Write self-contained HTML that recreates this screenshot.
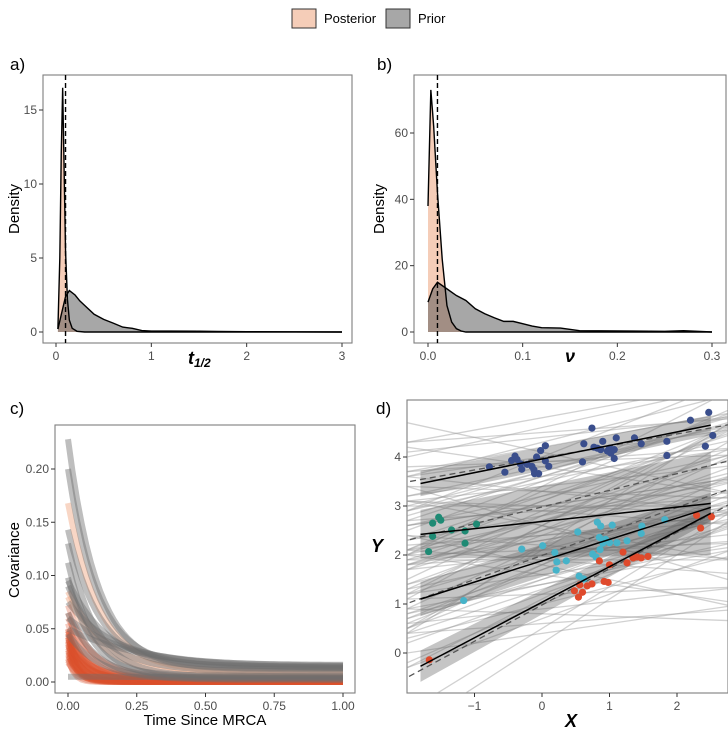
<!DOCTYPE html>
<html><head><meta charset="utf-8">
<style>
body{margin:0;background:#fff;font-family:"Liberation Sans",sans-serif;}
svg{display:block}
text{font-family:"Liberation Sans",sans-serif}
.tick{font-size:12px;fill:#4d4d4d}
.ttl{font-size:15px;fill:#000}
</style></head>
<body>
<svg id="fig" width="728" height="735" viewBox="0 0 728 735">
<g>
 <rect x="292" y="9" width="24" height="19" fill="#f5cdb8" stroke="#333" stroke-width="1"/>
 <text x="324" y="23" font-size="13">Posterior</text>
 <rect x="386" y="9" width="24" height="19" fill="#a7a7a7" stroke="#333" stroke-width="1"/>
 <text x="418" y="23" font-size="13">Prior</text>
</g>
<text x="10" y="70" font-size="17">a)</text>
<text x="377" y="70" font-size="17">b)</text>
<text x="10" y="414" font-size="17">c)</text>
<text x="376" y="414" font-size="17">d)</text>
<g id="pa"></g>
<g id="pb"></g>
<g id="pc"></g>
<g id="pd"></g>
</svg>
<script>
// ---- Panel a data ----
const aPostX=[0.02,0.04,0.055,0.07,0.085,0.1,0.12,0.14,0.17,0.22,0.3,3.0];
const aPostY=[0.2,5,12,16.5,11,5.5,2.2,0.8,0.25,0.05,0,0];
const aPriorX=[0.02,0.06,0.1,0.14,0.2,0.25,0.3,0.4,0.5,0.6,0.7,0.8,0.9,1.0,1.2,1.5,1.7,2.0,2.5,3.0];
const aPriorY=[0.2,1.3,2.4,2.8,2.5,2.1,1.8,1.2,0.85,0.6,0.33,0.25,0.1,0.06,0.06,0.05,0.04,0.02,0.01,0];
const aTicksX=[0,1,2,3];
const aTicksY=[0,5,10,15];
const aTrue=0.1;
// ---- Panel b data ----
const bPostX=[0,0.003,0.006,0.01,0.015,0.02,0.025,0.03,0.035,0.04,0.3];
const bPostY=[38,73,62,42,22,8,3,1,0.3,0,0];
const bPriorX=[0,0.005,0.01,0.02,0.03,0.04,0.05,0.06,0.07,0.08,0.09,0.1,0.11,0.12,0.14,0.16,0.2,0.25,0.27,0.3];
const bPriorY=[9,13,15,13,11,9.5,7,5.5,4.3,3.2,3.2,2.5,1.8,1.3,1.2,0.4,0.3,0.2,0.4,0];
const bTicksX=[0,0.1,0.2,0.3];
const bTicksY=[0,20,40,60];
const bTrue=0.01;
// ---- Panel c data (start value, half-life, floor) ----
const cPriorStart=[0.228,0.200,0.143,0.130,0.112,0.098,0.095,0.090,0.075,0.065,0.060,0.050,0.045,0.005];
const cPriorHalf=[0.075,0.075,0.08,0.07,0.065,0.06,0.1,0.09,0.12,0.07,0.15,0.2,0.08,0.5];
const cPriorFloor=[0.012,0.015,0.013,0.005,0.004,0.006,0.014,0.01,0.016,0.003,0.015,0.012,0.002,0.004];
const cPostStart=[0.168,0.085,0.080,0.072,0.065,0.060,0.055,0.050,0.048,0.046,0.044,0.042,0.040,0.038,0.036,0.034,0.032,0.030,0.028,0.026,0.024,0.022,0.020,0.018,0.050,0.045,0.040,0.035,0.030,0.028,0.025,0.022,0.048,0.042,0.038,0.033];
const cPostHalf=[0.08,0.1,0.09,0.06,0.05,0.07,0.04,0.06,0.05,0.04,0.05,0.03,0.06,0.045,0.035,0.05,0.03,0.04,0.03,0.025,0.04,0.03,0.02,0.03,0.025,0.02,0.035,0.025,0.02,0.05,0.03,0.015,0.04,0.03,0.02,0.06];
const cPostFloor=[0.01,0.008,0.005,0.003,0.002,0.004,0.001,0.002,0.001,0.002,0.003,0.001,0.002,0.001,0.0,0.001,0.0,0.002,0.0,0.001,0.0,0.001,0.0,0.0,0.001,0.0,0.002,0.0,0.001,0.003,0.0,0.0,0.002,0.001,0.0,0.004];
const cTicksX=[0,0.25,0.5,0.75,1.0];
const cTicksY=[0,0.05,0.1,0.15,0.2];
// ---- Panel d data ----
const dBlueX=[-0.78,-0.55,-0.45,-0.4,-0.37,-0.32,-0.3,-0.22,-0.15,-0.12,-0.11,-0.05,-0.08,-0.02,0.05,0.05,0.1,0.74,0.62,0.6,0.77,0.82,0.87,0.9,0.97,1.0,1.02,1.07,1.1,1.07,1.37,1.47,1.85,1.85,2.2,2.42,2.47,2.53];
const dBlueY=[3.8,3.69,3.93,4.02,3.95,3.86,3.75,3.85,3.81,3.74,3.66,3.66,4.0,4.13,4.23,3.92,3.81,4.59,4.27,3.9,4.2,4.18,4.15,4.32,4.12,4.18,4.08,4.15,4.39,3.97,4.39,4.27,4.32,4.03,4.75,4.22,4.91,4.44];
const dTealX=[-1.68,-1.62,-1.62,-1.53,-1.5,-1.34,-1.14,-1.14,-0.97];
const dTealY=[2.07,2.65,2.38,2.77,2.71,2.51,2.49,2.24,2.63];
const dCyanX=[-1.16,-0.3,0.01,0.19,0.22,0.21,0.36,0.53,0.55,0.62,0.75,0.8,0.82,0.87,0.85,0.86,0.9,0.94,1.0,1.04,1.11,1.26,1.48,1.47,1.82];
const dCyanY=[1.07,2.12,2.19,2.05,1.86,1.69,1.88,2.47,1.57,1.51,2.02,1.96,2.67,2.59,2.36,2.11,2.24,2.32,2.25,2.61,2.25,2.29,2.59,2.44,2.72];
const dRedX=[-1.67,0.48,0.54,0.6,0.56,0.67,0.74,0.85,0.92,0.98,1.0,1.2,1.26,1.35,1.41,1.47,1.57,2.29,2.35,2.51];
const dRedY=[-0.14,1.27,1.14,1.24,1.39,1.37,1.41,1.88,1.46,1.44,1.8,2.06,1.84,1.94,1.96,1.94,1.97,2.81,2.55,2.78];
const dFitLeft=[3.46,2.42,1.1,-0.27];
const dFitRight=[4.65,3.05,2.97,2.85];
const dRibLeft=[0.26,0.5,0.35,0.32];
const dRibRight=[0.2,1.05,0.3,0.15];
const dTrueInt=[3.98,2.98,1.99,0.98];
const dTrueSlope=[0.245,0.34,0.49,0.74];
const dPriorInt=[4.3,4.0,3.6,3.2,2.9,2.5,2.2,1.9,1.5,1.2,0.9,2.6,3.4,2.0,1.6,2.8,3.9,4.4,3.0,2.3,1.0,0.6,1.8,2.7,3.3,2.1,1.4,4.1,3.7,2.4,1.7,2.9,0.8,3.5,2.6,1.9,3.1,2.2,4.6,3.8,1.3,2.5,0.4,3.0,2.0,
 3.6,3.3,2.7,2.4,1.6,1.1,4.2,3.9,2.1,2.8,1.8,3.4,0.7,1.4,2.5,3.0,3.7,4.5,2.2,1.9,2.6,3.2,1.0,0.5,2.9,3.5,4.0,1.7,2.3,3.1,2.0,1.5,2.8,3.8,2.4,1.2,3.3,2.7,4.8,0.2,1.8,3.6,2.1,2.6,3.0];
const dPriorSlope=[0.35,0.55,0.2,0.45,0.1,0.6,-0.1,0.3,0.5,0.05,0.15,-0.25,0.7,0.4,-0.2,0.25,0.05,0.15,-0.05,0.2,0.35,0.1,0.65,0.45,-0.15,0.8,0.25,-0.3,0.4,0.15,0.55,0.6,-0.05,0.3,-0.4,-0.1,0.5,0.9,0.3,-0.2,0.45,0.35,0.2,0.0,0.1,
 0.4,0.6,0.3,0.5,0.2,0.7,0.25,0.1,0.35,0.45,0.55,0.15,0.5,0.3,0.4,0.2,0.35,0.1,0.65,0.0,0.75,0.3,0.6,0.85,-0.1,0.5,0.2,0.45,0.25,0.55,0.15,0.4,0.65,0.3,0.1,0.5,-0.05,0.35,0.25,0.9,-0.3,0.45,0.05,0.7,0.2];
const dTicksX=[-1,0,1,2];
const dTicksY=[0,1,2,3,4];

const NS='http://www.w3.org/2000/svg';
function mk(parent,tag,attrs){const e=document.createElementNS(NS,tag);for(const k in attrs)e.setAttribute(k,attrs[k]);parent.appendChild(e);return e;}
function lin(d0,d1,r0,r1){return v=>r0+(v-d0)*(r1-r0)/(d1-d0);}

function frame(g,box,sx,sy,tx,ty,fmt,id){
  const r=mk(g,'rect',{x:box[0],y:box[1],width:box[2]-box[0],height:box[3]-box[1],fill:'#fff',stroke:'#7f7f7f','stroke-width':1.1});
  
  
  tx.forEach(v=>{const x=sx(v);
    const l=mk(g,'line',{x1:x,x2:x,y1:box[3],y2:box[3]+4,stroke:'#333'});
    
    
    const t=mk(g,'text',{x:x,y:box[3]+17,'text-anchor':'middle',class:'tick'});t.textContent=fmt[0](v);
    
    });
  ty.forEach(v=>{const y=sy(v);
    const l=mk(g,'line',{x1:box[0]-4,x2:box[0],y1:y,y2:y,stroke:'#333'});
    
    
    const t=mk(g,'text',{x:box[0]-6,y:y+4,'text-anchor':'end',class:'tick'});t.textContent=fmt[1](v);
    
    });
}
function ylabel(g,txt,x,y,id){const t=mk(g,'text',{x:x,y:y,transform:`rotate(-90 ${x} ${y})`,'text-anchor':'middle',class:'ttl'});t.textContent=txt;
  
  return t;}

function density(g,box,sx,sy,px,py,qx,qy,trueV,id){
  let d='M'+sx(px[0])+','+sy(0);
  px.forEach((x,i)=>d+='L'+sx(x)+','+sy(py[i]));
  d+='L'+sx(px[px.length-1])+','+sy(0)+'Z';
  const pf=mk(g,'path',{d:d,fill:'#f5cdb8',stroke:'none'});
  
  
  let d2='M'+sx(qx[0])+','+sy(0);
  qx.forEach((x,i)=>d2+='L'+sx(x)+','+sy(qy[i]));
  d2+='L'+sx(qx[qx.length-1])+','+sy(0)+'Z';
  const qf=mk(g,'path',{d:d2,fill:'rgba(80,80,80,0.5)',stroke:'none'});
  
  
  let l1='M'+qx.map((x,i)=>sx(x)+','+sy(qy[i])).join('L');
  const ql=mk(g,'path',{d:l1,fill:'none',stroke:'#000','stroke-width':1.4});
  
  
  let l2='M'+px.map((x,i)=>sx(x)+','+sy(py[i])).join('L');
  const pl=mk(g,'path',{d:l2,fill:'none',stroke:'#000','stroke-width':1.4});
  
  
  const tl=mk(g,'line',{x1:sx(trueV),x2:sx(trueV),y1:box[1],y2:box[3],stroke:'#000','stroke-width':1.4,'stroke-dasharray':'5,3'});
  
  
}

(function(){const g=document.getElementById('pa');const box=[43,75,352,343];
 const sx=lin(0,3,56,342),sy=lin(0,15,332,110);
 frame(g,box,sx,sy,aTicksX,aTicksY,[v=>String(v),v=>String(v)],'a');
 density(g,box,sx,sy,aPostX,aPostY,aPriorX,aPriorY,aTrue,'a');
 ylabel(g,'Density',19,209,'a-y-axis-title');
 const t=mk(g,'text',{x:188,y:364,'font-size':18,'font-weight':'bold','font-style':'italic','font-family':'Liberation Serif'});
 
 
 t.innerHTML='t<tspan font-size="12" dy="3">1/2</tspan>';
})();
(function(){const g=document.getElementById('pb');const box=[414,75,726,343];
 const sx=lin(0,0.3,428,712),sy=lin(0,60,332,133);
 frame(g,box,sx,sy,bTicksX,bTicksY,[v=>v.toFixed(1),v=>String(v)],'b');
 density(g,box,sx,sy,bPostX,bPostY,bPriorX,bPriorY,bTrue,'b');
 ylabel(g,'Density',384,209,'b-y-axis-title');
 const t=mk(g,'text',{x:565,y:362,'font-size':18,'font-weight':'bold','font-style':'italic','font-family':'Liberation Serif'});
 t.textContent='ν';
 
 
})();
(function(){const g=document.getElementById('pc');const box=[55,425,355,693];
 const sx=lin(0,1,68,343),sy=lin(0,0.2,682,469);
 frame(g,box,sx,sy,cTicksX,cTicksY,[v=>v.toFixed(2),v=>v.toFixed(2)],'c');
 function curve(s,h,f,color,op,name){let d='';
  for(let i=0;i<=60;i++){const t=i/60;const v=f+(s-f)*Math.pow(0.5,t/h);d+=(i?'L':'M')+sx(t).toFixed(1)+','+sy(v).toFixed(1);}
  const p=mk(g,'path',{d:d,fill:'none',stroke:color,'stroke-width':6,'stroke-opacity':op});
  
  }
 cPostStart.forEach((s,i)=>curve(s,cPostHalf[i],cPostFloor[i],i<3?'#f0a47e':'#d9502a',i<3?0.45:0.3,'posterior-covariance-curve'));
 cPriorStart.forEach((s,i)=>curve(s,cPriorHalf[i],cPriorFloor[i],'#6f6f6f',0.45,'prior-covariance-curve'));
 ylabel(g,'Covariance',19,560,'c-y-axis-title');
 const t=mk(g,'text',{x:205,y:725,'text-anchor':'middle',class:'ttl'});t.textContent='Time Since MRCA';
 
 
})();
(function(){const g=document.getElementById('pd');const box=[407,400,728,693];
 const sx=lin(0,1,542,609.5),sy=lin(0,1,653,604);
 frame(g,box,sx,sy,dTicksX,dTicksY,[v=>v<0?'\u2212'+(-v):String(v),v=>String(v)],'d');
 const clip=mk(g,'clipPath',{id:'dclip'});mk(clip,'rect',{x:box[0],y:box[1],width:box[2]-box[0],height:box[3]-box[1]});
 const c=mk(g,'g',{'clip-path':'url(#dclip)'});
 const x0=-2.1,x1=2.9;
 dPriorInt.forEach((b,i)=>{const m=dPriorSlope[i];
  const l=mk(c,'line',{x1:sx(x0),y1:sy(b+m*x0),x2:sx(x1),y2:sy(b+m*x1),stroke:'#9a9a9a','stroke-opacity':0.45,'stroke-width':1.3});
  
  });
 const L=-1.8,R=2.5;
 dFitLeft.forEach((yl,i)=>{const yr=dFitRight[i];
  const p=mk(c,'path',{d:`M${sx(L)},${sy(yl+dRibLeft[i])}L${sx(R)},${sy(yr+dRibRight[i])}L${sx(R)},${sy(yr-dRibRight[i])}L${sx(L)},${sy(yl-dRibLeft[i])}Z`,fill:'rgba(90,90,90,0.35)'});
  
  });
 dTrueInt.forEach((b,i)=>{const m=dTrueSlope[i];
  const l=mk(c,'line',{x1:sx(x0),y1:sy(b+m*x0),x2:sx(x1),y2:sy(b+m*x1),stroke:'#555','stroke-width':1.3,'stroke-dasharray':'6,4'});
  
  });
 const groups=[[dBlueX,dBlueY,'#3a4e8c','blue'],[dTealX,dTealY,'#1f8a74','teal'],[dCyanX,dCyanY,'#46b3c9','cyan'],[dRedX,dRedY,'#df4a2c','red']];
 groups.forEach(([xs,ys,col,nm])=>xs.forEach((x,i)=>{
  const p=mk(c,'circle',{cx:sx(x),cy:sy(ys[i]),r:3.6,fill:col});
  
  }));
 dFitLeft.forEach((yl,i)=>{
  const l=mk(c,'line',{x1:sx(L),y1:sy(yl),x2:sx(R),y2:sy(dFitRight[i]),stroke:'#000','stroke-width':1.5});
  
  });
 const yt=mk(g,'text',{x:377,y:552,'font-size':18,'font-weight':'bold','font-style':'italic','font-family':'Liberation Serif','text-anchor':'middle'});
 yt.textContent='Y';
 
 
 const xt=mk(g,'text',{x:571,y:727,'font-size':18,'font-weight':'bold','font-style':'italic','font-family':'Liberation Serif','text-anchor':'middle'});
 xt.textContent='X';
 
 
})();
</script>
</body></html>
